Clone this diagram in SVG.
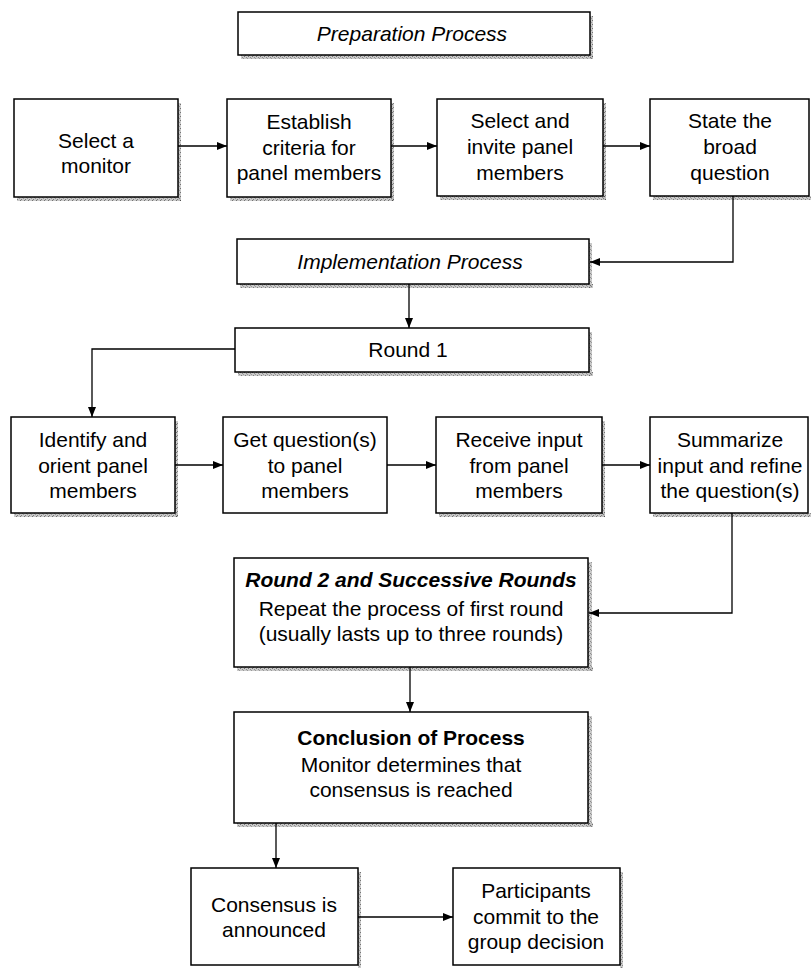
<svg xmlns="http://www.w3.org/2000/svg" width="811" height="968" viewBox="0 0 811 968">
<defs>
<pattern id="grain" width="4" height="4" patternUnits="userSpaceOnUse">
<rect width="4" height="4" fill="#b8b8b8"/>
<rect x="0" y="0" width="1" height="1" fill="#444"/>
<rect x="2" y="1" width="1" height="1" fill="#666"/>
<rect x="1" y="3" width="1" height="1" fill="#555"/>
<rect x="3" y="2" width="1" height="1" fill="#777"/>
</pattern>
<marker id="arr" viewBox="0 0 10 10" refX="10" refY="5" markerWidth="10" markerHeight="10" markerUnits="userSpaceOnUse" orient="auto">
<path d="M0,1 L10,5 L0,9 Z" fill="#000"/>
</marker>
<style>
.box{fill:#fff;stroke:#000;stroke-width:1.5}
.sh{fill:url(#grain);opacity:0.75}
.t{font-family:"Liberation Sans",Arial,Helvetica,sans-serif;font-size:21px;fill:#000;text-anchor:middle}
.it{font-style:italic}
.bi{font-style:italic;font-weight:bold}
.b{font-weight:bold}
.con{fill:none;stroke:#000;stroke-width:1.3;marker-end:url(#arr)}
</style>
</defs>
<rect width="811" height="968" fill="#fff"/>

<g id="preparation">
<rect class="sh" x="241" y="55" width="352" height="4"/><rect class="sh" x="590" y="16" width="3" height="43"/>
<rect class="box" x="238" y="12" width="352" height="43"/>
<text class="t it" x="412" y="41">Preparation Process</text>
</g>

<g id="select-monitor">
<rect class="sh" x="17" y="197" width="164" height="4"/><rect class="sh" x="178" y="103" width="3" height="98"/>
<rect class="box" x="14" y="99" width="164" height="98"/>
<text class="t" x="96" y="148">Select a</text>
<text class="t" x="96" y="173">monitor</text>
</g>

<g id="establish-criteria">
<rect class="sh" x="230" y="197" width="164" height="4"/><rect class="sh" x="391" y="103" width="3" height="98"/>
<rect class="box" x="227" y="99" width="164" height="98"/>
<text class="t" x="309" y="129">Establish</text>
<text class="t" x="309" y="155">criteria for</text>
<text class="t" x="309" y="180">panel members</text>
</g>

<g id="select-invite">
<rect class="sh" x="440" y="196" width="166" height="4"/><rect class="sh" x="603" y="103" width="3" height="97"/>
<rect class="box" x="437" y="99" width="166" height="97"/>
<text class="t" x="520" y="128">Select and</text>
<text class="t" x="520" y="154">invite panel</text>
<text class="t" x="520" y="180">members</text>
</g>

<g id="state-question">
<rect class="sh" x="653" y="196" width="158" height="4"/>
<rect class="box" x="650" y="99" width="159" height="97"/>
<text class="t" x="730" y="128">State the</text>
<text class="t" x="730" y="154">broad</text>
<text class="t" x="730" y="180">question</text>
</g>

<g id="implementation">
<rect class="sh" x="240" y="284" width="353" height="4"/><rect class="sh" x="589" y="243" width="3" height="45"/>
<rect class="box" x="237" y="239" width="352" height="45"/>
<text class="t it" x="410" y="269">Implementation Process</text>
</g>

<g id="round1">
<rect class="sh" x="238" y="372" width="355" height="4"/><rect class="sh" x="589" y="332" width="3" height="44"/>
<rect class="box" x="235" y="328" width="354" height="44"/>
<text class="t" x="408" y="357">Round 1</text>
</g>

<g id="identify-orient">
<rect class="sh" x="14" y="513" width="164" height="4"/><rect class="sh" x="175" y="421" width="3" height="96"/>
<rect class="box" x="11" y="417" width="164" height="96"/>
<text class="t" x="93" y="447">Identify and</text>
<text class="t" x="93" y="473">orient panel</text>
<text class="t" x="93" y="498">members</text>
</g>

<g id="get-questions">
<rect class="box" x="223" y="417" width="164" height="96"/>
<text class="t" x="305" y="447">Get question(s)</text>
<text class="t" x="305" y="473">to panel</text>
<text class="t" x="305" y="498">members</text>
</g>

<g id="receive-input">
<rect class="sh" x="439" y="513" width="166" height="4"/><rect class="sh" x="602" y="421" width="3" height="96"/>
<rect class="box" x="436" y="417" width="166" height="96"/>
<text class="t" x="519" y="447">Receive input</text>
<text class="t" x="519" y="473">from panel</text>
<text class="t" x="519" y="498">members</text>
</g>

<g id="summarize">
<rect class="sh" x="653" y="513" width="158" height="4"/>
<rect class="box" x="650" y="417" width="158" height="96"/>
<text class="t" x="730" y="447">Summarize</text>
<text class="t" x="730" y="473">input and refine</text>
<text class="t" x="730" y="498">the question(s)</text>
</g>

<g id="round2">
<rect class="sh" x="237" y="667" width="356" height="4"/><rect class="sh" x="588" y="562" width="4" height="109"/>
<rect class="box" x="234" y="558" width="354" height="109"/>
<text class="t bi" x="411" y="587">Round 2 and Successive Rounds</text>
<text class="t" x="411" y="616">Repeat the process of first round</text>
<text class="t" x="411" y="641">(usually lasts up to three rounds)</text>
</g>

<g id="conclusion">
<rect class="sh" x="237" y="823" width="356" height="4"/><rect class="sh" x="588" y="716" width="4" height="111"/>
<rect class="box" x="234" y="712" width="354" height="111"/>
<text class="t b" x="411" y="745">Conclusion of Process</text>
<text class="t" x="411" y="772">Monitor determines that</text>
<text class="t" x="411" y="797">consensus is reached</text>
</g>

<g id="consensus-announced">
<rect class="sh" x="358" y="872" width="3" height="96"/>
<rect class="box" x="191" y="868" width="167" height="97"/>
<text class="t" x="274" y="912">Consensus is</text>
<text class="t" x="274" y="937">announced</text>
</g>

<g id="participants-commit">
<rect class="sh" x="620" y="872" width="3" height="96"/>
<rect class="box" x="453" y="868" width="167" height="97"/>
<text class="t" x="536" y="898">Participants</text>
<text class="t" x="536" y="924">commit to the</text>
<text class="t" x="536" y="949">group decision</text>
</g>

<g id="connectors">
<path class="con" d="M178,146 H227"/>
<path class="con" d="M391,146 H437"/>
<path class="con" d="M603,146 H650"/>
<path class="con" d="M733,196 V262 H590"/>
<path class="con" d="M409,284 V328"/>
<path class="con" d="M235,349 H92 V417"/>
<path class="con" d="M175,465 H223"/>
<path class="con" d="M387,465 H436"/>
<path class="con" d="M602,465 H650"/>
<path class="con" d="M732,513 V613 H589"/>
<path class="con" d="M410,667 V712"/>
<path class="con" d="M276,823 V868"/>
<path class="con" d="M358,917 H453"/>
</g>
</svg>
